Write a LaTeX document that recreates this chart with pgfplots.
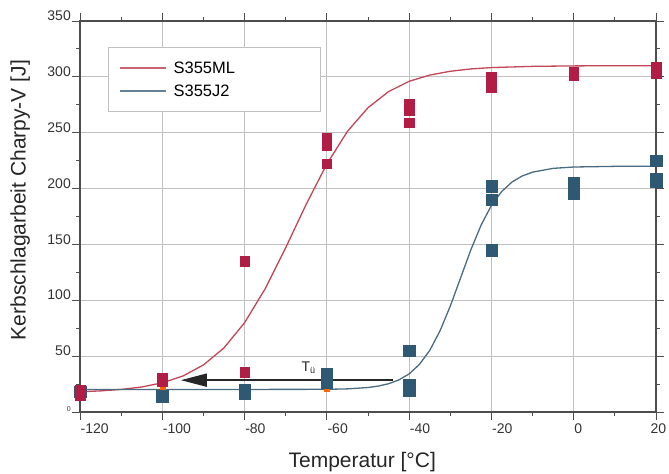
\documentclass[border=0pt]{standalone}
\usepackage{fontspec}
\setmainfont{Liberation Sans}
\usepackage{pgfplots}
\pgfplotsset{compat=1.18}
\usetikzlibrary{arrows.meta}
\definecolor{rmark}{HTML}{B21D45}
\definecolor{rline}{HTML}{C24656}
\definecolor{bmark}{HTML}{2F5872}
\definecolor{bline}{HTML}{4A6B82}
\definecolor{gridc}{HTML}{C0C0C0}
\definecolor{axc}{HTML}{4D4D4D}

\begin{document}
\begin{tikzpicture}
\useasboundingbox (0,0) rectangle (669bp,474bp);
\begin{axis}[
  at={(80bp,62bp)}, anchor=south west,
  width=576bp, height=391bp, scale only axis,
  xmin=-120, xmax=20, ymin=0, ymax=350,
  xtick={-120,-100,...,20},
  xticklabels={-120,-100,-80,-60,-40,-20,0,\hspace*{-6bp}20},
  ytick={0,50,...,350},
  yticklabels={{\fontsize{7bp}{8bp}\selectfont 0},50,100,150,200,250,300,350},
  minor x tick num=1, minor y tick num=1,
  tick align=outside, major tick length=8bp, minor tick length=4bp,
  tick style={axc, line width=0.9bp},
  axis line style={axc, line width=1.4bp},
  grid=major, major grid style={gridc, line width=1bp},
  tick label style={font=\fontsize{14bp}{16bp}\selectfont, text=black!80},
  yticklabel style={anchor=south east, inner sep=1bp, yshift=-1bp},
  xticklabel style={anchor=north west, inner sep=2bp, xshift=-1.5bp, yshift=-2bp},
  xlabel={Temperatur [°C]},
  ylabel={Kerbschlagarbeit Charpy-V [J]},
  label style={font=\fontsize{21bp}{24bp}\selectfont, text=black!85},
  xlabel style={at={(axis description cs:0.49,-0.128)}, anchor=center},
  ylabel style={at={(axis description cs:-0.104,0.542)}, anchor=center, rotate=0},
  legend style={at={(axis description cs:0.0485,0.9335)}, anchor=north west,
    draw=gridc, line width=1bp, inner xsep=11bp, inner ysep=12bp,
    font=\fontsize{16.5bp}{19bp}\selectfont, row sep=6bp,
    nodes={text width=129bp, inner xsep=7bp}},
  legend cell align=left,
  clip=false,
]
\addlegendimage{legend image code/.code={\draw[rline!85, line width=1.2bp] (0bp,0bp) -- (46bp,0bp);}}
\addlegendentry{S355ML}
\addlegendimage{legend image code/.code={\draw[bline!85, line width=1.2bp] (0bp,0bp) -- (46bp,0bp);}}
\addlegendentry{S355J2}
\addplot[rline, line width=1.3bp, forget plot] coordinates {
(-120,18.1) (-115,18.9) (-110,20.2) (-105,22.4) (-100,26.1) (-95,32.2) (-90,42.1)
(-85,57.4) (-80,79.9) (-75,110.3) (-70,147.1) (-65,186.1) (-60,222.0) (-55,251.2)
(-50,272.4) (-45,286.8) (-40,296.0) (-35,301.6) (-30,305.0) (-25,307.1) (-20,308.3)
(-10,309.4) (0,309.8) (10,310.0) (20,310.0)};
\addplot[bline, line width=1.3bp, forget plot] coordinates {
(-120,20.2) (-100,20.2) (-80,20.2) (-60,20.3) (-55,20.7) (-50,21.9) (-47.5,23.2)
(-45,25.3) (-42.5,28.7) (-40,34.1) (-37.5,42.6) (-35,55.1) (-32.5,72.6) (-30,94.8)
(-27.5,120) (-25,145.2) (-22.5,167.4) (-20,184.9) (-17.5,197.4) (-15,205.9)
(-12.5,211.3) (-10,214.7) (-5,218.1) (0,219.3) (10,219.9) (20,220)};
\addplot[only marks, mark=square*, mark size=2.5bp, color=orange!80!red, forget plot] coordinates {
(-60,21) (-100,21)};
\addplot[only marks, mark=square*, mark size=5.7bp, color=bmark, forget plot] coordinates {
(-120,18) (-100,14) (-80,20) (-80,17) (-60,34) (-60,26)
(-40,55) (-40,24) (-40,19.5) (-20,202) (-20,190) (-20,145)
(0,205) (0,196) (20,225) (20,209) (20,206)};
\addplot[only marks, mark=square*, mark size=4.8bp, color=rmark, forget plot] coordinates {
(-120,19.5) (-120,14.5) (-100,30) (-100,27) (-80,135) (-80,35.5)
(-60,245) (-60,239) (-60,222.4) (-40,276) (-40,270) (-40,259)
(-20,299.5) (-20,290.5) (0,304.5) (0,301.5) (20,308.5) (20,303)};
\draw[-{Triangle[length=26bp,width=13bp]}, line width=1.8bp, black!85]
  (axis cs:-44,28.5) -- (axis cs:-95.5,28.5);
\node[font=\fontsize{14bp}{16bp}\selectfont, text=black!85] at (axis cs:-64.5,39.5)
  {T\raisebox{-2.5bp}{\fontsize{9bp}{10bp}\selectfont ü}};
\end{axis}
\end{tikzpicture}
\end{document}
